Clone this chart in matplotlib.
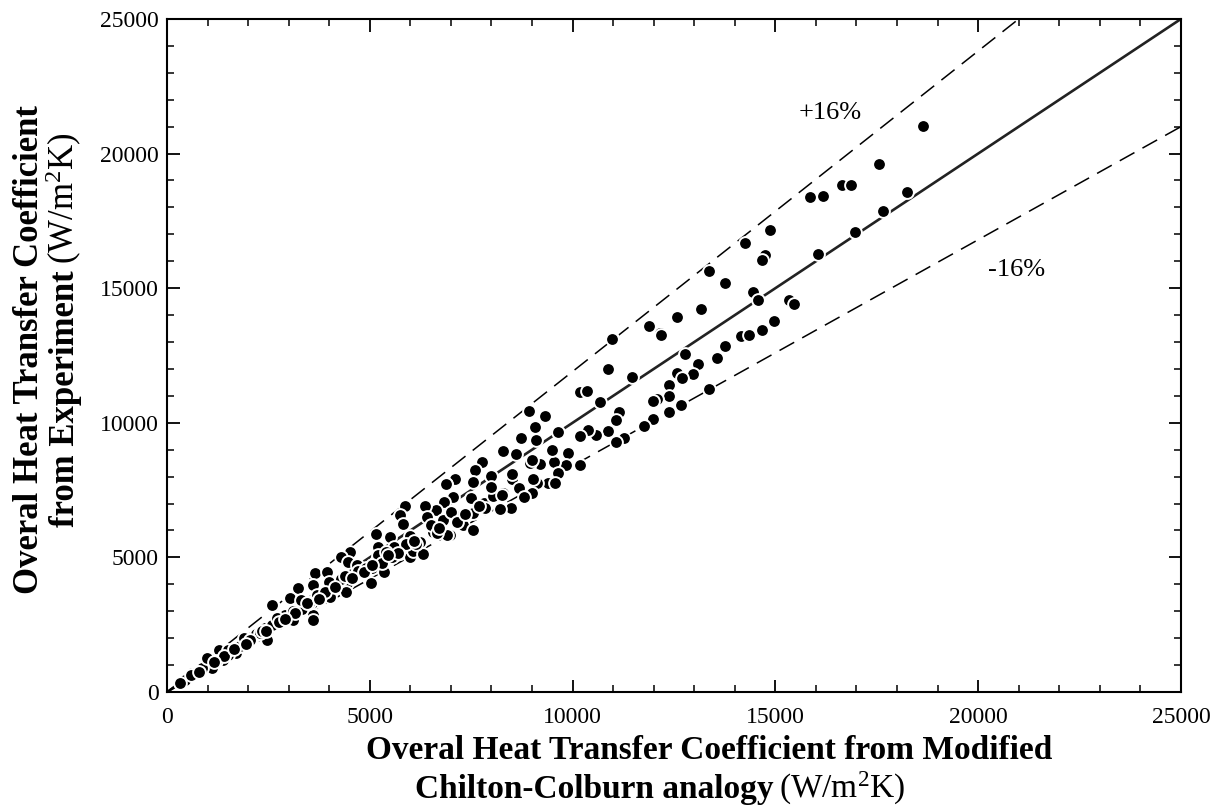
import numpy as np
import matplotlib
matplotlib.use('Agg')
import matplotlib.pyplot as plt
from matplotlib.ticker import MultipleLocator

plt.rcParams['font.family'] = ['Liberation Serif', 'DejaVu Serif']
plt.rcParams['mathtext.fontset'] = 'custom'
plt.rcParams['mathtext.rm'] = 'Liberation Serif'
plt.rcParams['mathtext.it'] = 'Liberation Serif:italic'
plt.rcParams['mathtext.bf'] = 'Liberation Serif:bold'

# U from modified Chilton-Colburn analogy (x) vs U from experiment (y), W/m2K
u_pred = [
    18640, 17560, 16650, 16870, 15860, 16170, 18250, 17650, 16960, 16040,
    14860, 14250, 14750, 14660, 13360, 13770, 14460, 14570, 13160, 12570,
    11870, 12160, 10960, 15340, 15450, 14970, 14660, 14160, 14360, 13760,
    13570, 13080, 12960, 12770, 12580, 12690, 12380, 12380, 12070, 11990,
    13370, 12670, 12380, 11980, 11770, 11270, 11060, 11150, 11070, 10870,
    10570, 10370, 10180, 9890, 10180, 9840, 9550, 9650, 9200, 8950,
    9390, 9570, 9130, 9030, 8510, 8680, 8990, 8800, 8480, 8210,
    8280, 8610, 8280, 8720, 9100, 9080, 9630, 8920, 9320, 10680,
    11470, 10870, 10180, 10360, 10970, 11880, 12170, 12570, 13170,
    7760, 7590, 7990, 7540, 7110, 6870, 7060, 6840, 6630, 6360,
    5870, 5750, 5810, 6400, 6810, 7270, 7550, 7820, 8030, 7290,
    6980, 6530, 6240, 5990, 5750, 5500, 5990, 6320, 5150, 5500,
    5190, 4510, 4280, 4470, 5050, 4680, 3650, 3940, 5170, 7840,
    7550, 6880, 6550, 6900, 5990, 5040, 4430, 4410, 4020, 3770,
    3530, 3240, 3030, 3280, 2800, 2620, 2420, 2130, 1680, 1060,
    4680, 3590, 3570, 3320, 3110, 2500, 2460, 1700, 1510, 1370,
    1100, 860, 610, 440, 3610, 2010, 1270, 980, 730, 320,
    5540, 6070, 6320, 5360, 2870, 2580, 3610,
    1500, 1800, 2200, 2600, 2900, 3300, 3700, 4000, 4300, 4700,
    5200, 5600, 6000, 6500, 7000, 7500, 8000, 8500, 9000, 9500,
    1900, 2300, 2700, 3100, 3500, 3900, 4400, 4900, 5400, 5900,
    600, 800, 1200, 1400, 1650, 2050, 2350, 2750, 3150, 3450,
    4850, 5300, 5700, 6150, 6650, 7150, 7700, 8250, 2900, 3750,
    4150, 4550, 5050, 5450, 6100, 6700, 7350, 1950, 2450, 1150,
]
u_exp = [
    21040, 19630, 18830, 18830, 18380, 18420, 18570, 17850, 17090, 16280,
    17150, 16670, 16220, 16040, 15630, 15190, 14840, 14570, 14260, 13980,
    13630, 13320, 13160, 14560, 14400, 13790, 13440, 13240, 13260, 12860,
    12420, 12170, 11810, 12540, 11860, 11650, 11400, 11010, 10870, 10810,
    11240, 10660, 10410, 10140, 9890, 9420, 9300, 10410, 10100, 9700,
    9550, 9730, 9510, 8890, 8430, 8430, 8560, 8120, 8470, 8490,
    7780, 7750, 7750, 7900, 7900, 7590, 7380, 7260, 6850, 6780,
    7400, 8840, 8960, 9450, 9360, 9830, 9670, 10440, 10260, 10780,
    11710, 11990, 11160, 11190, 13100, 13600, 13270, 13940, 14220,
    8530, 8250, 8010, 7790, 7910, 7730, 7260, 7070, 6760, 6910,
    6910, 6580, 6230, 6490, 6390, 6580, 6640, 7030, 7280, 6200,
    5830, 5920, 5590, 5470, 5160, 5030, 5030, 5100, 5870, 5770,
    5400, 5210, 5030, 4840, 4590, 4410, 4410, 4470, 4900, 6820,
    6020, 7720, 5930, 5830, 5400, 4040, 4040, 3730, 3540, 3540,
    3300, 3850, 3480, 3050, 2740, 3200, 2370, 2080, 1500, 970,
    4720, 3980, 3300, 3080, 2680, 2300, 1930, 1460, 1370, 1190,
    900, 880, 690, 450, 2860, 1930, 1560, 1250, 760, 320,
    5000, 5250, 5130, 4470, 2680, 3230, 2680,
    1550, 1700, 2150, 2500, 2850, 3400, 3600, 4100, 4200, 4500,
    5100, 5400, 5800, 6200, 6700, 7200, 7600, 8100, 8600, 9000,
    2000, 2200, 2750, 3000, 3300, 3700, 4300, 4600, 5200, 5500,
    650, 760, 1150, 1320, 1600, 1950, 2250, 2600, 2950, 3300,
    4450, 4800, 5150, 5500, 5900, 6300, 6900, 7300, 2700, 3450,
    3900, 4250, 4700, 5100, 5600, 6100, 6600, 1800, 2250, 1100,
]

line_x = [0, 25000]
band = 0.16
tick_vals = [0, 5000, 10000, 15000, 20000, 25000]

fig = plt.figure(figsize=(12.21, 8.07), dpi=100)
ax = fig.add_axes([0.1368, 0.1425, 0.8304, 0.834])

ax.plot(line_x, line_x, color='#222222', lw=1.9, zorder=2)
ax.plot(line_x, [v / (1 - band) for v in line_x], color='black', lw=1.1,
        dashes=(11, 6), zorder=2)
ax.plot(line_x, [v * (1 - band) for v in line_x], color='black', lw=1.1,
        dashes=(11, 6), zorder=2)
ax.plot(u_pred, u_exp, 'o', ms=9.2, mfc='black', mec='white', mew=1.4,
        ls='none', zorder=3, clip_on=False)

ax.text(16350, 21500, '+16%', fontsize=19, ha='center', va='center')
ax.text(20950, 15680, '-16%', fontsize=19, ha='center', va='center')

ax.set_xlim(0, 25000)
ax.set_ylim(0, 25000)
ax.set_xticks(tick_vals)
ax.set_yticks(tick_vals)
ax.xaxis.set_minor_locator(MultipleLocator(1000))
ax.yaxis.set_minor_locator(MultipleLocator(1000))
ax.tick_params(which='both', direction='in', top=True, right=True,
               labelsize=17)
ax.tick_params(which='major', length=9, width=1.3)
ax.tick_params(which='minor', length=5, width=1.1)
ax.tick_params(axis='x', pad=11)
ax.tick_params(axis='y', pad=6)
for s in ax.spines.values():
    s.set_linewidth(1.5)

# axis labels: bold words followed by regular unit text
fig.canvas.draw()
r = fig.canvas.get_renderer()
W, H = fig.bbox.width, fig.bbox.height
gap = 6


def mixed_label(bold, plain, cx, cy, size, rot=0):
    t1 = fig.text(0, 0, bold, fontsize=size, weight='bold', rotation=rot,
                  ha='left', va='baseline', rotation_mode='anchor')
    t2 = fig.text(0, 0, plain, fontsize=size, rotation=rot,
                  ha='left', va='baseline', rotation_mode='anchor')
    if rot == 0:
        w1 = t1.get_window_extent(r).width
        w2 = t2.get_window_extent(r).width if plain else 0
        x0 = cx - (w1 + gap + w2) / 2
        t1.set_position((x0 / W, cy / H))
        t2.set_position(((x0 + w1 + gap) / W, cy / H))
    else:
        h1 = t1.get_window_extent(r).height
        h2 = t2.get_window_extent(r).height if plain else 0
        y0 = cy - (h1 + gap + h2) / 2
        t1.set_position((cx / W, y0 / H))
        t2.set_position((cx / W, (y0 + h1 + gap) / H))


mixed_label('Overal Heat Transfer Coefficient from Modified', '', 712, 807 - 759, 24)
mixed_label('Chilton-Colburn analogy', '(W/m$^2$K)', 660, 807 - 798, 24)
mixed_label('Overal Heat Transfer Coefficient', '', 38, 807 - 347, 25, rot=90)
mixed_label('from Experiment', '(W/m$^2$K)', 74, 807 - 330, 25, rot=90)

fig.savefig('out.png', dpi=100)
